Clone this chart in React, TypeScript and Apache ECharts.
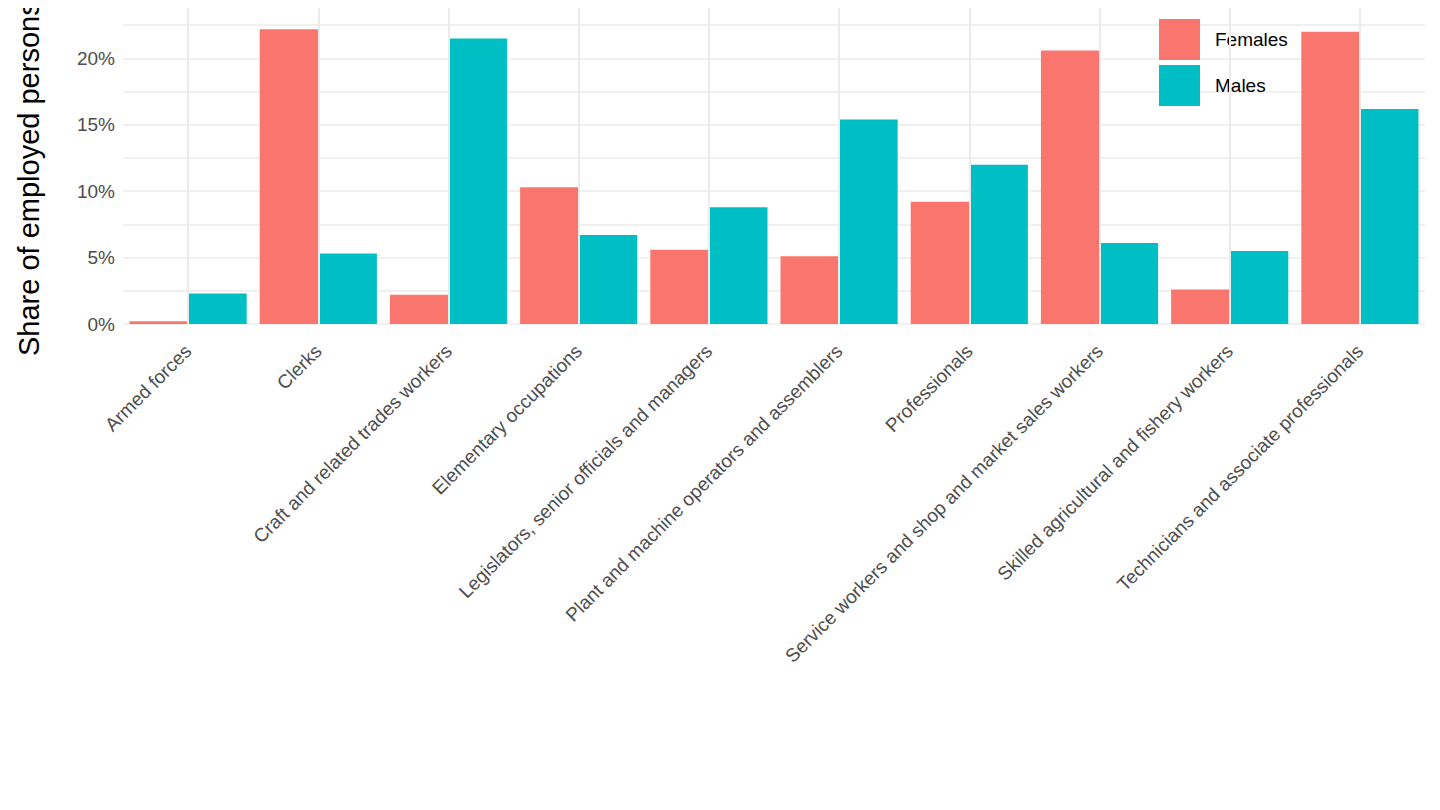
import { useEffect, useRef } from "react";
import * as echarts from "echarts";

const categories = [
  "Armed forces",
  "Clerks",
  "Craft and related trades workers",
  "Elementary occupations",
  "Legislators, senior officials and managers",
  "Plant and machine operators and assemblers",
  "Professionals",
  "Service workers and shop and market sales workers",
  "Skilled agricultural and fishery workers",
  "Technicians and associate professionals",
];
const females = [0.2, 22.2, 2.2, 10.3, 5.6, 5.1, 9.2, 20.6, 2.6, 22.0];
const males = [2.3, 5.3, 21.5, 6.7, 8.8, 15.4, 12.0, 6.1, 5.5, 16.2];

const font = "Liberation Sans";

const App: React.FC = () => {
  const chartRef = useRef<HTMLDivElement>(null);

  useEffect(() => {
    if (!chartRef.current) return;
    const chart = echarts.init(chartRef.current, undefined, { renderer: "svg" });
    chart.setOption({
      animation: false,
      textStyle: { fontFamily: font },
      grid: { left: 123, right: 15, top: 0, height: 324 },
      legend: {
        orient: "vertical",
        left: 1154,
        top: 14,
        itemWidth: 41,
        itemHeight: 41,
        itemGap: 5,
        icon: "rect",
        textStyle: { fontSize: 19, color: "#000", fontFamily: font, padding: [0, 0, 0, 10] },
        data: ["Females", "Males"],
      },
      graphic: [
        {
          type: "text",
          x: 14,
          y: 356,
          rotation: Math.PI / 2,
          style: {
            text: "Share of employed persons",
            fontSize: 29,
            fontFamily: font,
            fill: "#000",
            textAlign: "left",
            textVerticalAlign: "top",
          },
        },
      ],
      xAxis: {
        type: "category",
        data: categories,
        axisLine: { show: false },
        axisTick: { show: false },
        axisLabel: {
          rotate: 45,
          interval: 0,
          fontSize: 19,
          color: "#4d4d4d",
          margin: 24,
          fontFamily: font,
        },
      },
      yAxis: {
        type: "value",
        min: 0,
        max: 24.4,
        interval: 2.5,
        axisLine: { show: false },
        axisTick: { show: false },
        axisLabel: {
          fontSize: 19,
          color: "#4d4d4d",
          fontFamily: font,
          formatter: (v: number) => (v % 5 === 0 ? `${v}%` : ""),
        },
        splitLine: {
          lineStyle: { color: "#ebebeb", width: 1.5 },
        },
      },
      series: [
        {
          type: "line",
          data: [],
          z: 1,
          silent: true,
          markLine: {
            silent: true,
            symbol: "none",
            label: { show: false },
            lineStyle: { color: "#ebebeb", width: 2, type: "solid" },
            data: categories.map((c) => ({ xAxis: c })),
          },
        },
        {
          name: "Females",
          type: "bar",
          data: females,
          z: 2,
          barGap: "0%",
          barCategoryGap: "10%",
          itemStyle: { color: "#F8766D" },
        },
        {
          name: "Males",
          type: "bar",
          data: males,
          z: 2,
          itemStyle: { color: "#00BFC4" },
        },
      ],
    });
    return () => chart.dispose();
  }, []);

  return <div ref={chartRef} style={{ width: "1440px", height: "810px", margin: "-8px" }} />;
};

export default App;
